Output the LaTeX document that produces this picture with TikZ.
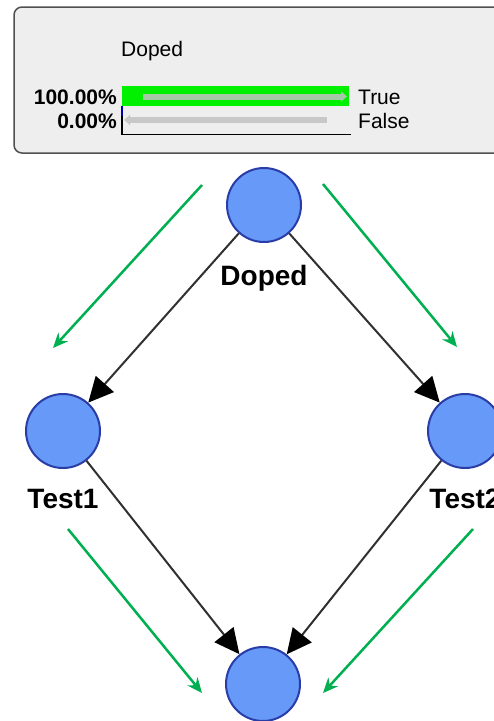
\documentclass[tikz,border=0pt]{standalone}
\usepackage{fontspec}
\setmainfont{Liberation Sans}
\usetikzlibrary{arrows.meta}
\definecolor{panelfill}{HTML}{EEEEEE}
\definecolor{panelborder}{HTML}{505050}
\definecolor{barGreen}{HTML}{00F000}
\definecolor{arrowOnGreen}{HTML}{A6C8A6}
\definecolor{arrowGray}{HTML}{C8C8C8}
\definecolor{nodeFill}{HTML}{6699F8}
\definecolor{nodeBorder}{HTML}{2A3CA6}
\definecolor{hintGreen}{HTML}{00B050}
\definecolor{edgeGray}{HTML}{303030}
\tikzset{
  bnode/.style={circle, minimum size=74pt, inner sep=0pt, fill=nodeFill, draw=nodeBorder, line width=2pt},
  blabel/.style={font=\fontsize{28}{30}\selectfont\bfseries, inner sep=0pt, anchor=base},
  ptext/.style={font=\fontsize{21}{24}\selectfont, inner sep=0pt},
  pbold/.style={font=\fontsize{21}{24}\selectfont\bfseries, inner sep=0pt, anchor=base east},
  edge/.style={draw=edgeGray, line width=2pt, -{Triangle[length=25pt,width=24pt,color=black]}},
  hint/.style={draw=hintGreen, line width=2.5pt, -{Stealth[length=15pt,width=13pt]}}
}
\begin{document}
\begin{tikzpicture}[x=1pt,y=-1pt]
\useasboundingbox (0,0) rectangle (494,721);
\clip (0,0) rectangle (494,721);
% panel
\draw[fill=panelfill, draw=panelborder, line width=1.5pt, rounded corners=8pt] (14,7) rectangle (520,153);
\node[ptext, anchor=base west] (ptitle) at (121,56) {Doped};
\fill[barGreen] (122,86) rectangle (349,106);
\draw[arrowOnGreen, line width=6pt, -{Triangle[length=6pt,width=10pt]}] (143,96.5) -- (347,96.5);
\draw[arrowGray, line width=6pt, -{Triangle[length=6pt,width=10pt]}] (327,120) -- (124,120);
\draw[black, line width=1.2pt] (122,106) -- (122,134.5) -- (351,134.5);
\draw[blue!70!black, line width=1.2pt] (122,106) -- (122,116);
\node[pbold] (pct1) at (117,104) {100.00\%};
\node[pbold] (pct2) at (117,128) {0.00\%};
\node[ptext, anchor=base west] (ltrue) at (358,104) {True};
\node[ptext, anchor=base west] (lfalse) at (358,128) {False};
% nodes
\node[bnode] (doped) at (264,205) {};
\node[bnode] (test1) at (63,431) {};
\node[bnode] (test2) at (465,431) {};
\node[bnode] (bottom) at (263,684) {};
\node[blabel] (ldoped) at (264,285) {Doped};
\node[blabel] (ltest1) at (63,508) {Test1};
\node[blabel] (ltest2) at (465,508) {Test2};
% edges
\draw[edge] (doped) -- (test1);
\draw[edge] (doped) -- (test2);
\draw[edge] (test1) -- (bottom);
\draw[edge] (test2) -- (bottom);
% green hint arrows
\coordinate (g1s) at (202,185); \coordinate (g1e) at (53,348);
\coordinate (g2s) at (323,184); \coordinate (g2e) at (457,347);
\coordinate (g3s) at (68,529);  \coordinate (g3e) at (202,693);
\coordinate (g4s) at (473,529); \coordinate (g4e) at (323,693);
\draw[hint] (g1s) -- (g1e);
\draw[hint] (g2s) -- (g2e);
\draw[hint] (g3s) -- (g3e);
\draw[hint] (g4s) -- (g4e);
\end{tikzpicture}
\end{document}
